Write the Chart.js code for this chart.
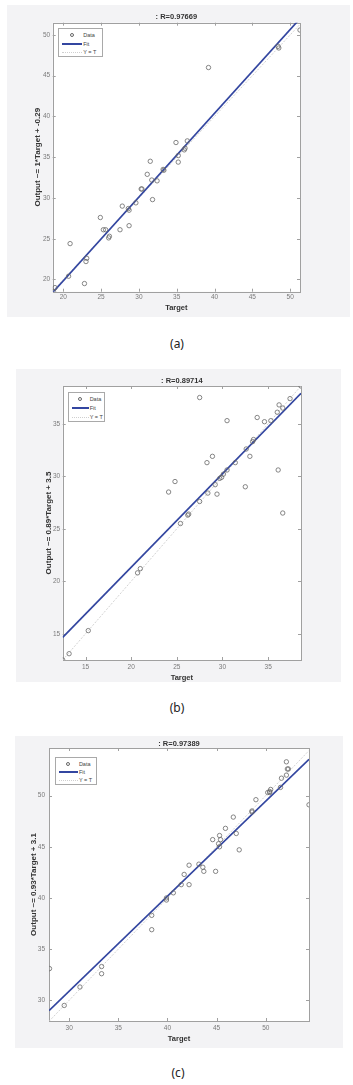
<!DOCTYPE html>
<html>
<head>
<meta charset="utf-8">
<script src="https://cdn.jsdelivr.net/npm/chart.js@4.4.1/dist/chart.umd.min.js"></script>
<style>
  html, body { margin: 0; padding: 0; background: #fff; }
  body { position: relative; width: 353px; height: 1085px; overflow: hidden; }
  .panel { position: absolute; background: #f3f3f5; }
  .panel canvas { display: block; }
  .legend { position: absolute; background: #fff; border: 1px solid #a9a9a9; box-sizing: border-box;
            font-family: "Liberation Sans", Arial, sans-serif; font-size: 5.5px; color: #444; }
  .legend .row { position: absolute; left: 0; right: 0; height: 0; }
  .legend .txt { position: absolute; top: -4px; line-height: 8px; white-space: nowrap; }
  .legend .circ { position: absolute; top: -2px; width: 4px; height: 4px; border: 0.8px solid #666;
                  border-radius: 50%; box-sizing: border-box; }
  .legend .fit { position: absolute; top: -1px; height: 2px; background: #3346a0; }
  .legend .yt { position: absolute; top: 0; height: 0; border-top: 1px dotted #cfcfcf; }
  .caption { position: absolute; font-family: "Noto Sans", sans-serif; font-size: 12px; color: #222;
             transform: translate(-50%, -50%); white-space: nowrap; }
</style>
</head>
<body>
<script>
// ---- data ----
const targetA = [51.3, 48.4, 48.5, 39.2, 34.9, 36.4, 36.0, 36.1, 35.2, 35.2, 31.5, 33.3, 33.2, 31.1, 31.7,
                 32.4, 30.4, 30.3, 31.8, 29.6, 27.8, 28.6, 28.7, 28.7, 24.9, 25.3, 25.6, 27.5, 26.1, 26.0,
                 20.9, 23.1, 23.0, 20.7, 22.8, 18.9, 18.7];
const outputA = [50.6, 48.6, 48.4, 46.0, 36.8, 37.0, 35.9, 36.1, 35.2, 34.4, 34.5, 33.4, 33.5, 32.9, 32.2,
                 32.1, 31.1, 31.1, 29.8, 29.4, 29.0, 28.7, 28.5, 26.6, 27.6, 26.1, 26.1, 26.1, 25.3, 25.1,
                 24.4, 22.6, 22.2, 20.4, 19.5, 19.0, 18.5];
const fitXA = [18.6, 51.3];
const fitYA = [18.4, 52.0];
const identA = [18.6, 51.3];

const targetB = [38.6, 27.5, 37.4, 36.2, 36.6, 36.0, 33.8, 34.6, 35.3, 30.5, 33.4, 33.3, 32.6, 33.0, 28.9,
                 28.3, 31.4, 30.5, 36.1, 30.1, 29.7, 29.9, 29.2, 24.8, 32.5, 24.1, 28.4, 29.4, 27.5, 26.3,
                 26.2, 36.6, 25.4, 20.7, 21.0, 15.3, 13.2, 12.5];
const outputB = [38.6, 37.5, 37.4, 36.8, 36.5, 36.1, 35.6, 35.2, 35.3, 35.3, 33.5, 33.3, 32.6, 31.9, 31.9,
                 31.3, 31.3, 30.6, 30.6, 30.2, 29.8, 29.9, 29.2, 29.5, 29.0, 28.5, 28.4, 28.3, 27.6, 26.4,
                 26.3, 26.5, 25.5, 20.8, 21.2, 15.3, 13.1, 12.5];
const fitXB = [12.5, 38.6];
const fitYB = [14.65, 37.9];
const identB = [12.5, 38.6];

const targetC = [52.1, 52.3, 52.2, 52.1, 51.6, 51.5, 50.5, 50.4, 50.2, 50.4, 54.4, 49.0, 48.6, 48.6, 46.7,
                 45.9, 47.0, 45.3, 44.6, 45.4, 45.2, 45.3, 47.3, 43.2, 42.2, 43.6, 43.7, 44.9, 41.7, 41.4,
                 42.2, 40.6, 39.9, 39.9, 38.4, 38.4, 33.3, 33.3, 28.0, 31.1, 29.5];
const outputC = [53.3, 52.6, 52.6, 52.0, 51.7, 50.8, 50.6, 50.4, 50.3, 50.3, 49.1, 49.6, 48.5, 48.4, 47.9,
                 46.8, 46.3, 46.1, 45.7, 45.7, 45.3, 45.0, 44.7, 43.3, 43.2, 43.0, 42.6, 42.6, 42.3, 41.3,
                 41.3, 40.5, 40.0, 39.8, 38.3, 36.9, 33.3, 32.6, 33.1, 31.3, 29.5];
const fitXC = [27.95, 54.4];
const fitYC = [29.0, 53.55];
const identC = [27.95, 54.4];

const titles = [': R=0.97669', ': R=0.89714', ': R=0.97389'];
const yLabels = ['Output ~= 1*Target + -0.29', 'Output ~= 0.89*Target + 3.5', 'Output ~= 0.93*Target + 3.1'];
const captions = ['(a)', '(b)', '(c)'];
const legendLabels = ['Data', 'Fit', 'Y = T'];

const FONT = '"Liberation Sans", Arial, sans-serif';

// white plot box, grey frame and inward tick marks (MATLAB style)
const framePlugin = {
  id: 'frame',
  beforeDatasetsDraw(chart) {
    const {ctx, chartArea: a, scales} = chart;
    ctx.save();
    ctx.fillStyle = '#fff';
    ctx.fillRect(a.left, a.top, a.right - a.left, a.bottom - a.top);
    ctx.strokeStyle = '#a0a0a0';
    ctx.lineWidth = 1;
    ctx.beginPath();
    scales.x.ticks.forEach(t => {
      const px = Math.round(scales.x.getPixelForValue(t.value)) + 0.5;
      ctx.moveTo(px, a.bottom); ctx.lineTo(px, a.bottom - 3);
      ctx.moveTo(px, a.top); ctx.lineTo(px, a.top + 3);
    });
    scales.y.ticks.forEach(t => {
      const py = Math.round(scales.y.getPixelForValue(t.value)) + 0.5;
      ctx.moveTo(a.left, py); ctx.lineTo(a.left + 3, py);
      ctx.moveTo(a.right, py); ctx.lineTo(a.right - 3, py);
    });
    ctx.stroke();
    ctx.strokeRect(Math.round(a.left) + 0.5, Math.round(a.top) + 0.5,
                   Math.round(a.right - a.left), Math.round(a.bottom - a.top));
    ctx.restore();
  }
};

const panels = [
  {box: [7, 5, 343, 312], lim: [18.6, 51.3, 18.5, 51.5], yW: 45.7, padR: 50, tTop: 7.5, tBot: 1.2, xH: 25.3,
   xTitlePad: 4.5, yTitlePad: 25.9, xTickPad: 2, yTickPad: 2.5,
   legend: [58, 28, 45, 29], cap: [177, 343],
   target: targetA, output: outputA, fitX: fitXA, fitY: fitYA, ident: identA},
  {box: [16, 369, 325, 313], lim: [12.5, 38.6, 12.5, 38.6], yW: 46.7, padR: 40, tTop: 7.5, tBot: 0.5, xH: 22,
   xTitlePad: 0, yTitlePad: 27.5, xTickPad: 3, yTickPad: 2.5,
   legend: [68, 392, 37, 30], cap: [177, 707],
   target: targetB, output: outputB, fitX: fitXB, fitY: fitYB, ident: identB},
  {box: [15, 736, 328, 312], lim: [27.95, 54.4, 27.98, 54.65], yW: 34, padR: 34, tTop: 3, tBot: 0, xH: 27,
   xTitlePad: 4.5, yTitlePad: 13.5, xTickPad: 3.5, yTickPad: 4,
   legend: [55, 757, 42, 27.5], cap: [178, 1072],
   target: targetC, output: outputC, fitX: fitXC, fitY: fitYC, ident: identC}
];

panels.forEach((p, i) => {
  const [left, top, w, h] = p.box;
  const div = document.createElement('div');
  div.className = 'panel';
  Object.assign(div.style, {left: left + 'px', top: top + 'px', width: w + 'px', height: h + 'px'});
  const canvas = document.createElement('canvas');
  canvas.width = w;
  canvas.height = h;
  div.appendChild(canvas);
  document.body.appendChild(div);

  const tickFont = {family: FONT, size: 6.5};
  new Chart(canvas, {
    type: 'scatter',
    data: {
      datasets: [
        {
          label: legendLabels[0],
          data: p.target.map((t, k) => ({x: t, y: p.output[k]})),
          pointStyle: 'circle',
          pointRadius: 2.2,
          borderWidth: 0.8,
          borderColor: '#686868',
          backgroundColor: 'rgba(0,0,0,0)',
          order: 0
        },
        {
          label: legendLabels[1],
          type: 'line',
          data: p.fitX.map((x, k) => ({x: x, y: p.fitY[k]})),
          borderColor: '#3346a0',
          borderWidth: 1.7,
          pointRadius: 0,
          order: 1
        },
        {
          label: legendLabels[2],
          type: 'line',
          data: p.ident.map(v => ({x: v, y: v})),
          borderColor: '#cdcdcd',
          borderWidth: 0.9,
          borderDash: [2, 1.5],
          pointRadius: 0,
          order: 2
        }
      ]
    },
    options: {
      responsive: false,
      animation: false,
      devicePixelRatio: 1,
      layout: {padding: {left: 0, right: p.padR, top: 0, bottom: 0}},
      plugins: {
        legend: {display: false},
        tooltip: {enabled: false},
        title: {
          display: true,
          text: titles[i],
          fullSize: false,
          color: '#333',
          font: {family: FONT, size: 7.5, weight: 'bold'},
          padding: {top: p.tTop, bottom: p.tBot}
        }
      },
      scales: {
        x: {
          type: 'linear',
          position: 'bottom',
          min: p.lim[0],
          max: p.lim[1],
          afterFit: s => { s.height = p.xH; },
          grid: {display: false, drawTicks: false},
          border: {display: false},
          ticks: {stepSize: 5, includeBounds: false, font: tickFont, color: '#7a7a7a', padding: p.xTickPad, maxRotation: 0},
          title: {display: true, text: 'Target', color: '#333',
                  font: {family: FONT, size: 7.5, weight: 'bold'}, padding: {top: 0, bottom: p.xTitlePad}}
        },
        y: {
          type: 'linear',
          position: 'left',
          min: p.lim[2],
          max: p.lim[3],
          afterFit: s => { s.width = p.yW; },
          grid: {display: false, drawTicks: false},
          border: {display: false},
          ticks: {stepSize: 5, includeBounds: false, font: tickFont, color: '#7a7a7a', padding: p.yTickPad},
          title: {display: true, text: yLabels[i], color: '#333',
                  font: {family: FONT, size: 8, weight: 'bold'}, padding: {top: p.yTitlePad, bottom: 0}}
        }
      }
    },
    plugins: [framePlugin]
  });

  // legend box in the upper-left corner of the plot
  const [lx, ly, lw, lh] = p.legend;
  const lg = document.createElement('div');
  lg.className = 'legend';
  Object.assign(lg.style, {left: lx + 'px', top: ly + 'px', width: lw + 'px', height: lh + 'px'});
  const markW = lw * 0.45;
  legendLabels.forEach((lab, k) => {
    const row = document.createElement('div');
    row.className = 'row';
    row.style.top = (lh * (0.2 + 0.3 * k)) + 'px';
    let mark;
    if (k === 0) {
      mark = document.createElement('span');
      mark.className = 'circ';
      mark.style.left = (3 + markW / 2 - 2) + 'px';
    } else {
      mark = document.createElement('span');
      mark.className = k === 1 ? 'fit' : 'yt';
      mark.style.left = '3px';
      mark.style.width = markW + 'px';
    }
    row.appendChild(mark);
    const txt = document.createElement('span');
    txt.className = 'txt';
    txt.style.left = (4 + markW) + 'px';
    txt.textContent = lab;
    row.appendChild(txt);
    lg.appendChild(row);
  });
  document.body.appendChild(lg);

  const cap = document.createElement('div');
  cap.className = 'caption';
  cap.style.left = p.cap[0] + 'px';
  cap.style.top = p.cap[1] + 'px';
  cap.textContent = captions[i];
  document.body.appendChild(cap);
});
</script>
</body>
</html>
